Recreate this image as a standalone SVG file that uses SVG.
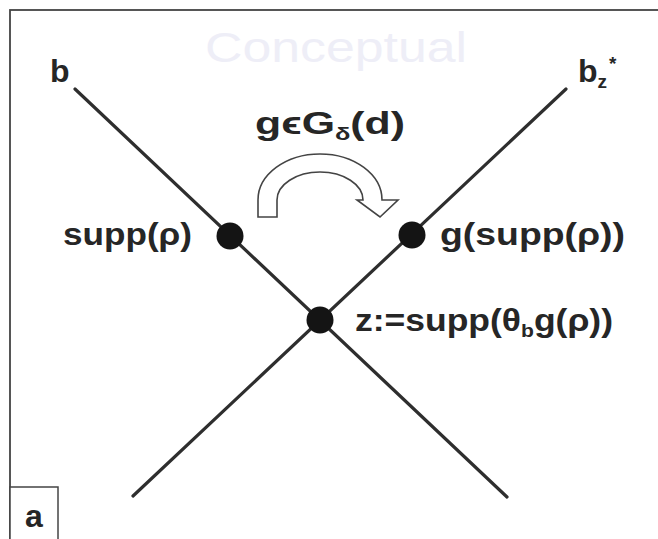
<svg xmlns="http://www.w3.org/2000/svg" width="658" height="539" viewBox="0 0 658 539">
<style>
.lbl{font-family:"Liberation Sans",Arial,sans-serif;font-weight:bold;font-size:32px;fill:#262626}
.sub{font-size:19px}
.ln{stroke:#2e2e2e;stroke-width:3.2;stroke-linecap:round;fill:none}
.dot{fill:#141414}
</style>
<rect x="0" y="0" width="658" height="539" fill="#fff"/>
<rect x="10" y="10" width="700" height="600" fill="none" stroke="#444" stroke-width="1.8"/>
<text x="205" y="62" font-family="'Liberation Sans',Arial,sans-serif" font-size="42" fill="#eeeef7" textLength="262" lengthAdjust="spacingAndGlyphs">Conceptual</text>
<g id="connectors">
<line class="ln" x1="75" y1="89" x2="507" y2="497"/>
<line class="ln" x1="566" y1="89" x2="133" y2="496"/>
<path id="curved-arrow" d="M258 217 L258 200 A62 46 0 0 1 382 200 L398 200 L380 217 L357 200 L363 200 A43 28 0 0 0 277 200 L277 217 Z" fill="#fff" stroke="#444" stroke-width="1.6" stroke-linejoin="miter"/>
</g>
<g id="node-b"><text class="lbl" x="50" y="82">b</text></g>
<g id="node-bz"><text class="lbl" x="578" y="82">b<tspan class="sub" dy="6">z</tspan><tspan class="sub" font-size="22" dx="2" dy="-18">*</tspan></text></g>
<g id="node-g"><text class="lbl" x="255" y="134" textLength="150" lengthAdjust="spacingAndGlyphs">gϵG<tspan class="sub" dy="6">δ</tspan><tspan dy="-6">(d)</tspan></text></g>
<g id="node-supp">
<circle class="dot" cx="230" cy="236" r="13.5"/>
<text class="lbl" x="63" y="245" textLength="129" lengthAdjust="spacingAndGlyphs">supp(ρ)</text>
</g>
<g id="node-gsupp">
<circle class="dot" cx="412" cy="235" r="13.5"/>
<text class="lbl" x="440" y="245" textLength="185" lengthAdjust="spacingAndGlyphs">g(supp(ρ))</text>
</g>
<g id="node-z">
<circle class="dot" cx="320" cy="320" r="13.5"/>
<text class="lbl" x="355" y="331" textLength="258" lengthAdjust="spacingAndGlyphs">z:=supp(θ<tspan class="sub" dy="6">b</tspan><tspan dy="-6">g(ρ))</tspan></text>
</g>
<g id="node-a">
<rect x="10" y="487" width="48" height="70" fill="#fff" stroke="#444" stroke-width="1.5"/>
<text class="lbl" x="34" y="527" text-anchor="middle" font-size="27">a</text>
</g>
</svg>
